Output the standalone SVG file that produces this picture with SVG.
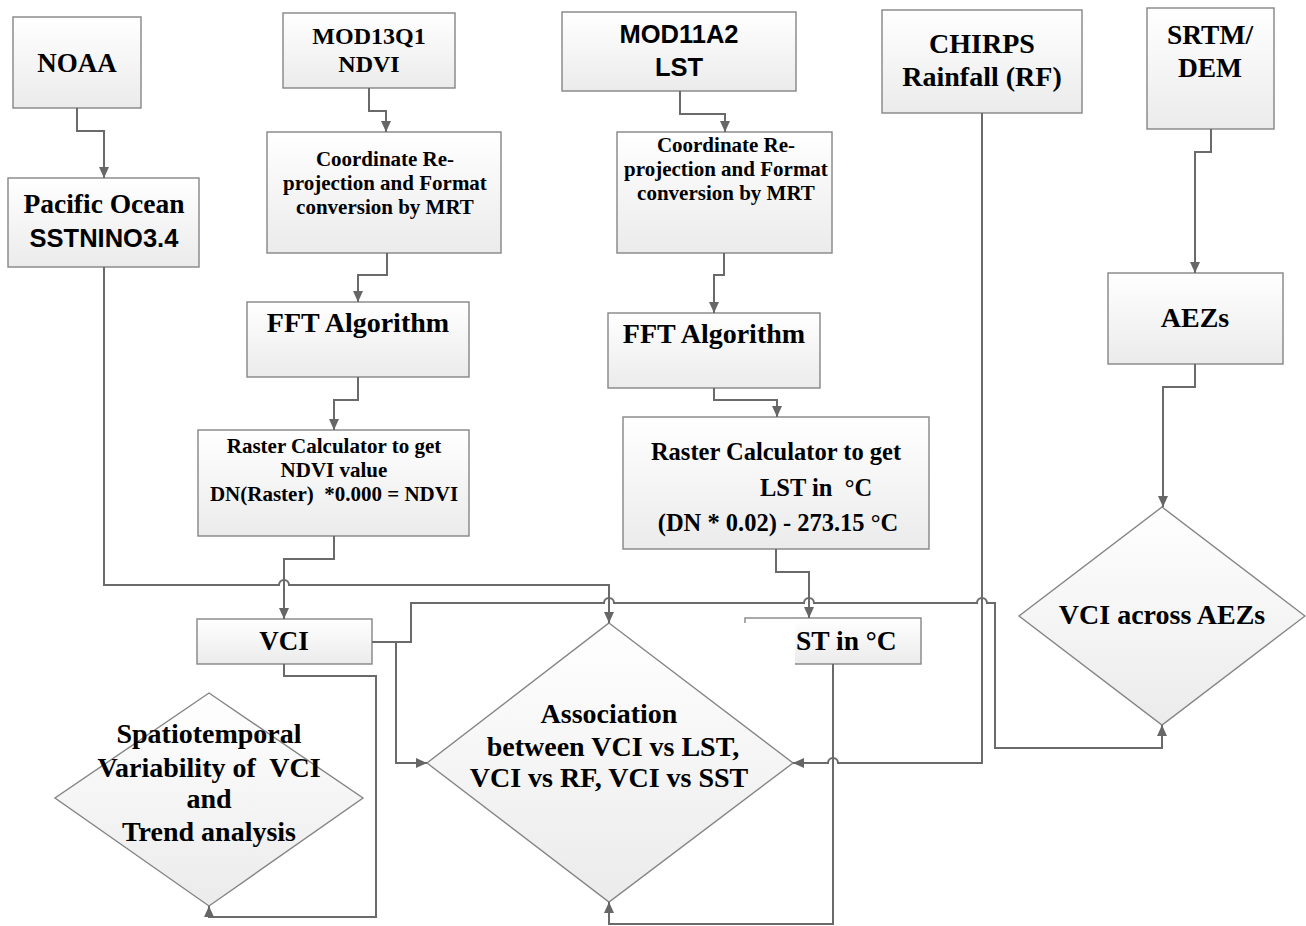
<svg xmlns="http://www.w3.org/2000/svg" width="1306" height="926" viewBox="0 0 1306 926">
<style>
.box{stroke:#858585;stroke-width:1.4;fill:url(#gf)}
.sh{fill:none;stroke:#e2e2e2;stroke-width:1.5}
.t{font-family:"Liberation Serif","Times New Roman",serif;font-weight:bold;fill:#000;text-anchor:middle}
.s{font-family:"Liberation Sans",Arial,sans-serif;font-weight:bold;fill:#000;text-anchor:middle}
.c{fill:none;stroke:#6a6a6a;stroke-width:2}
.a{marker-end:url(#ah)}
</style>
<defs>
<linearGradient id="gf" x1="0" y1="0" x2="0" y2="1">
<stop offset="0" stop-color="#ffffff"/>
<stop offset="1" stop-color="#ebebeb"/>
</linearGradient>
<marker id="ah" markerUnits="userSpaceOnUse" markerWidth="12" markerHeight="12" refX="11" refY="5" orient="auto">
<path d="M0,0 L11,5 L0,10 z" fill="#666"/>
</marker>
</defs>
<rect width="1306" height="926" fill="#fff"/>

<g id="noaa">
<rect class="box" x="13" y="17" width="128" height="91"/>
<text class="t" x="77" y="72" font-size="27">NOAA</text>
</g>
<g id="pacific">
<rect class="box" x="8" y="178" width="191" height="89"/>
<text class="t" x="104" y="213" font-size="27.5">Pacific Ocean</text>
<text class="s" x="104" y="247" font-size="25.5">SSTNINO3.4</text>
</g>
<g id="mod13q1">
<rect class="box" x="283" y="13" width="172" height="75"/>
<text class="t" x="369" y="44" font-size="24">MOD13Q1</text>
<text class="t" x="369" y="72" font-size="24">NDVI</text>
</g>
<g id="coord1">
<rect class="box" x="267" y="132" width="234" height="121"/>
<text class="t" x="385" y="166" font-size="21">Coordinate Re-</text>
<text class="t" x="385" y="190" font-size="21">projection and Format</text>
<text class="t" x="385" y="214" font-size="21">conversion by MRT</text>
</g>
<g id="fft1">
<rect class="box" x="247" y="302" width="222" height="75"/>
<text class="t" x="358" y="332" font-size="28">FFT Algorithm</text>
</g>
<g id="raster1">
<rect class="box" x="198" y="430" width="271" height="106"/>
<text class="t" x="334" y="453" font-size="21">Raster Calculator to get</text>
<text class="t" x="334" y="477" font-size="21">NDVI value</text>
<text class="t" x="334" y="501" font-size="21" xml:space="preserve">DN(Raster)  *0.000 = NDVI</text>
</g>
<g id="vci">
<rect class="box" x="197" y="619" width="175" height="45"/>
<text class="t" x="284" y="650" font-size="27">VCI</text>
</g>
<g id="mod11a2">
<rect class="box" x="562" y="12" width="234" height="79"/>
<text class="s" x="679" y="43" font-size="25.5">MOD11A2</text>
<text class="s" x="679" y="76" font-size="25.5">LST</text>
</g>
<g id="coord2">
<rect class="box" x="617" y="132" width="215" height="121"/>
<text class="t" x="726" y="152" font-size="21">Coordinate Re-</text>
<text class="t" x="726" y="176" font-size="21">projection and Format</text>
<text class="t" x="726" y="200" font-size="21">conversion by MRT</text>
</g>
<g id="fft2">
<rect class="box" x="608" y="313" width="212" height="75"/>
<text class="t" x="714" y="343" font-size="28">FFT Algorithm</text>
</g>
<g id="raster2">
<rect class="box" x="623" y="417" width="306" height="132"/>
<text class="t" x="776" y="460" font-size="24.5">Raster Calculator to get</text>
<text class="t" x="760" y="496" font-size="24.5" style="text-anchor:start" xml:space="preserve">LST in  °C</text>
<text class="t" x="778" y="531" font-size="24.5">(DN * 0.02) - 273.15 °C</text>
</g>
<g id="lst">
<rect class="box" x="745" y="618" width="176" height="46"/>
<text class="t" x="796" y="650" font-size="27.5" style="text-anchor:start">ST in °C</text>
</g>
<g id="chirps">
<rect class="box" x="882" y="10" width="200" height="103"/>
<text class="t" x="982" y="53" font-size="28">CHIRPS</text>
<text class="t" x="982" y="86" font-size="28">Rainfall (RF)</text>
</g>
<g id="srtm">
<rect class="box" x="1147" y="8" width="127" height="121"/>
<text class="t" x="1210" y="44" font-size="27.5">SRTM/</text>
<text class="t" x="1210" y="77" font-size="27.5">DEM</text>
</g>
<g id="aezs">
<rect class="box" x="1108" y="273" width="175" height="91"/>
<text class="t" x="1195" y="327" font-size="28">AEZs</text>
</g>
<g id="vci-aez">
<polygon class="box" points="1162,507 1305,616 1162,725 1019,616"/>
<text class="t" x="1162" y="624" font-size="28">VCI across AEZs</text>
</g>
<g id="spatio">
<polygon class="box" points="209,693 363,798 209,906 55,798"/>
<text class="t" x="209" y="743" font-size="28">Spatiotemporal</text>
<text class="t" x="209" y="777" font-size="28" xml:space="preserve">Variability of  VCI</text>
<text class="t" x="209" y="808" font-size="28">and</text>
<text class="t" x="209" y="841" font-size="28">Trend analysis</text>
</g>
<g id="association">
<rect x="427" y="623" width="368" height="279" fill="#fff"/>
<polygon class="box" points="609,623 793,763 609,902 427,763"/>
<text class="t" x="609" y="723" font-size="28">Association</text>
<text class="t" x="613" y="756" font-size="28">between VCI vs LST,</text>
<text class="t" x="609" y="787" font-size="28">VCI vs RF, VCI vs SST</text>
</g>

<g id="connectors">
<path class="c a" d="M77,108 V131 H104 V178"/>
<path class="c a" d="M104,267 V585 H279 A5,5 0 0 1 289,585 H609 V623"/>
<path class="c a" d="M369,88 V111 H386 V132"/>
<path class="c a" d="M387,253 V275 H358 V302"/>
<path class="c a" d="M358,377 V400 H334 V430"/>
<path class="c a" d="M334,536 V559 H284 V619"/>
<path class="c a" d="M680,91 V114 H725 V132"/>
<path class="c a" d="M724,253 V275 H714 V313"/>
<path class="c a" d="M714,388 V400 H777 V417"/>
<path class="c a" d="M776,549 V572 H809 V618"/>
<path class="c a" d="M372,642 H411 V603 H604 A5,5 0 0 1 614,603 H804 A5,5 0 0 1 814,603 H977 A5,5 0 0 1 987,603 H995 V748 H1162 V725"/>
<path class="c a" d="M372,642 H396 V763 H427"/>
<path class="c a" d="M284,664 V676 H376 V917 H209 V906"/>
<path class="c a" d="M833,664 V924 H609 V902"/>
<path class="c a" d="M982,113 V763 H838 A5,5 0 0 0 828,763 H793"/>
<path class="c a" d="M1211,129 V152 H1195 V273"/>
<path class="c a" d="M1195,364 V387 H1163 V507"/>
</g>
</svg>
